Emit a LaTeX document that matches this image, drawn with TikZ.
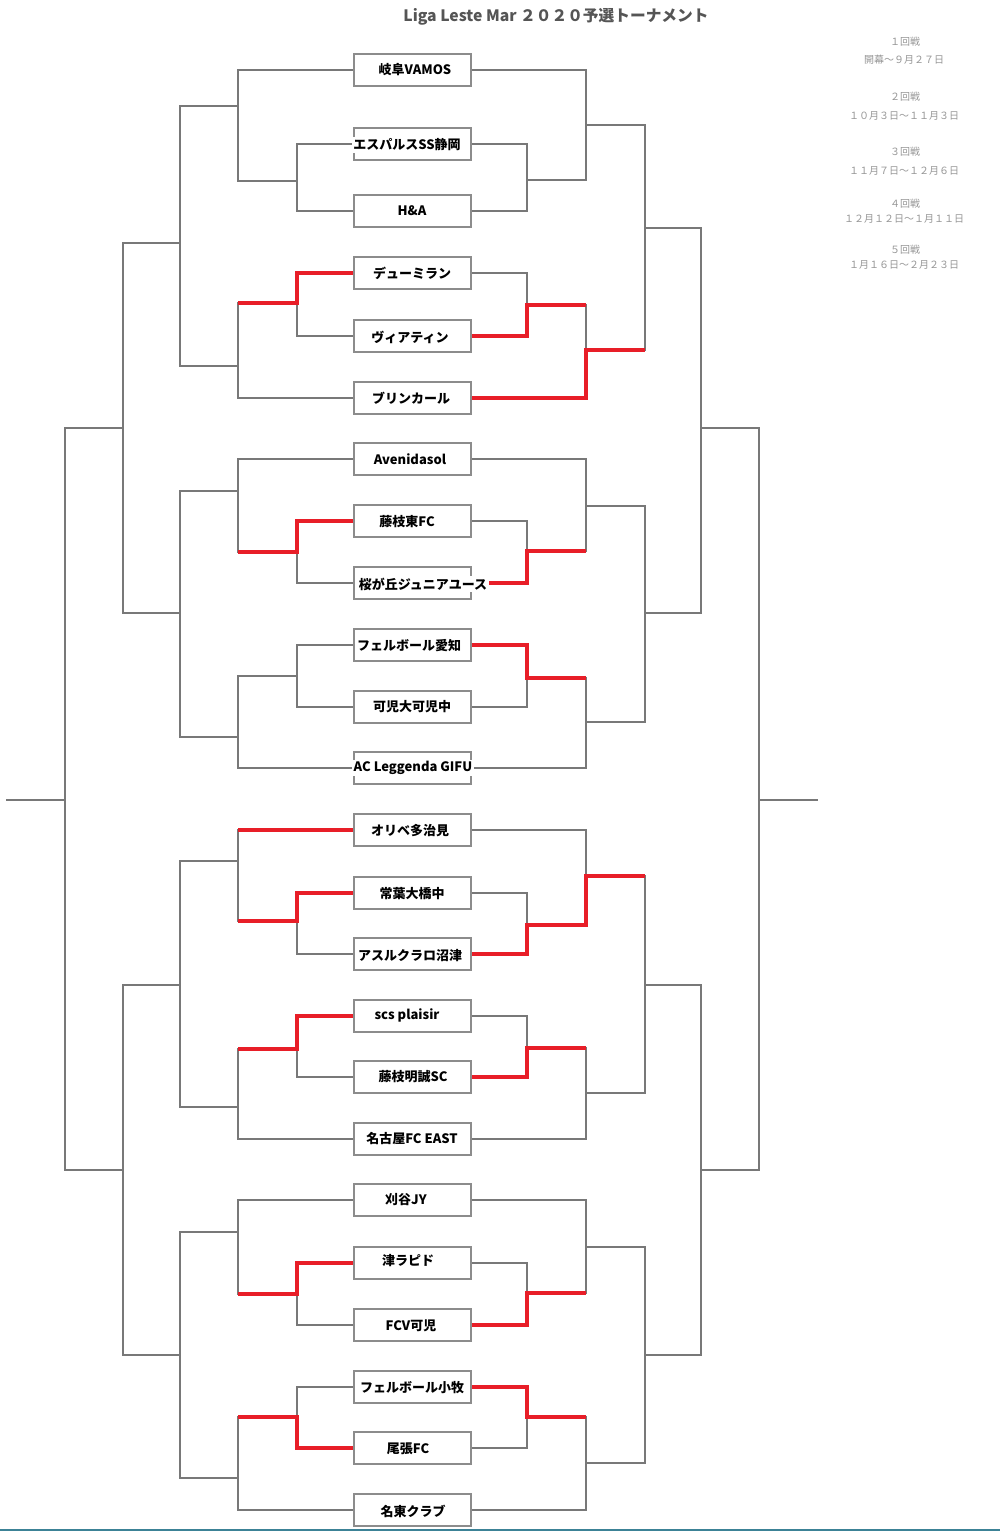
\documentclass[tikz,border=0pt]{standalone}
\usepackage{fontspec}
\setmainfont{Noto Sans CJK JP}
\definecolor{lgray}{RGB}{120,120,120}
\definecolor{bgray}{RGB}{140,140,140}
\definecolor{hred}{RGB}{232,30,40}
\definecolor{tealline}{RGB}{60,130,150}
\definecolor{ttl}{RGB}{85,85,85}
\definecolor{leg}{RGB}{150,150,150}
\begin{document}
\begin{tikzpicture}[x=1pt,y=-1pt,
  ln/.style={draw=lgray,line width=1.8pt},
  win/.style={draw=hred,line width=4.2pt},
  teambox/.style={draw=bgray,line width=2.4pt,fill=white,minimum width=117pt,minimum height=32pt,inner sep=0pt},
  lbl/.style={fill=white,inner sep=1.5pt,font=\fontsize{13}{15}\selectfont\bfseries},
  legtxt/.style={text=leg,inner sep=0pt,font=\fontsize{10}{12}\selectfont},
  ttltxt/.style={text=ttl,inner sep=0pt,font=\fontsize{15.7}{18}\selectfont\bfseries}]
\useasboundingbox[fill=white] (0,0) rectangle (1000,1531);

% title and legend
\node[ttltxt] (title) at (556,17) {Liga Leste Mar ２０２０予選トーナメント};
\node[legtxt] (g1a) at (905,42) {１回戦};
\node[legtxt] (g1b) at (904,60) {開幕～９月２７日};
\node[legtxt] (g2a) at (905,97) {２回戦};
\node[legtxt] (g2b) at (904,116) {１０月３日～１１月３日};
\node[legtxt] (g3a) at (905,152) {３回戦};
\node[legtxt] (g3b) at (904,171) {１１月７日～１２月６日};
\node[legtxt] (g4a) at (905,204) {４回戦};
\node[legtxt] (g4b) at (904,219) {１２月１２日～１月１１日};
\node[legtxt] (g5a) at (905,250) {５回戦};
\node[legtxt] (g5b) at (904,265) {１月１６日～２月２３日};

% team boxes
\foreach \i/\y in {1/70,2/144,3/211,4/273,5/336,6/398,7/459,8/521,9/583,10/645,11/707,12/768,
                   13/830,14/893,15/954,16/1016,17/1077,18/1139,19/1200,20/1263,21/1325,22/1387,23/1448,24/1510}
  \node[teambox] (t\i) at (412.5,\y) {};

% junction coordinates, left
\coordinate (L1p) at (297,181);  \coordinate (L1g) at (238,106);
\coordinate (L2p) at (297,303);  \coordinate (L2g) at (238,366);
\coordinate (L12) at (180,243);
\coordinate (L3p) at (297,552);  \coordinate (L3g) at (238,491);
\coordinate (L4p) at (297,676);  \coordinate (L4g) at (238,737);
\coordinate (L34) at (180,613);
\coordinate (L1234) at (123,428);
\coordinate (Lroot) at (65,800); \coordinate (Lstub) at (6,800);
\coordinate (L5p) at (297,921);  \coordinate (L5g) at (238,861);
\coordinate (L6p) at (297,1049); \coordinate (L6g) at (238,1107);
\coordinate (L56) at (180,985);
\coordinate (L7p) at (297,1294); \coordinate (L7g) at (238,1232);
\coordinate (L8p) at (297,1417); \coordinate (L8g) at (238,1478);
\coordinate (L78) at (180,1355);
\coordinate (L5678) at (123,1170);
% junction coordinates, right
\coordinate (R1p) at (527,180);  \coordinate (R1g) at (586,125);
\coordinate (R2p) at (527,305);  \coordinate (R2g) at (586,350);
\coordinate (R12) at (645,228);
\coordinate (R3p) at (527,551);  \coordinate (R3g) at (586,506);
\coordinate (R4p) at (527,678);  \coordinate (R4g) at (586,722);
\coordinate (R34) at (645,613);
\coordinate (R1234) at (701,428);
\coordinate (Rroot) at (759,800); \coordinate (Rstub) at (818,800);
\coordinate (R5p) at (527,925);  \coordinate (R5g) at (586,876);
\coordinate (R6p) at (527,1048); \coordinate (R6g) at (586,1093);
\coordinate (R56) at (645,985);
\coordinate (R7p) at (527,1293); \coordinate (R7g) at (586,1247);
\coordinate (R8p) at (527,1417); \coordinate (R8g) at (586,1463);
\coordinate (R78) at (645,1355);
\coordinate (R5678) at (701,1170);

% ---- bracket lines (gray)
% groups with single team on top
\foreach \a/\b/\c/\g in {1/2/3/1,7/8/9/3,13/14/15/5,19/20/21/7}{
  \draw[ln] (t\b.west) -| (L\g p) |- (t\c.west);
  \draw[ln] (L\g p) -| (L\g g) |- (t\a.west);
  \draw[ln] (t\b.east) -| (R\g p) |- (t\c.east);
  \draw[ln] (R\g p) -| (R\g g) |- (t\a.east);
}
% groups with single team at bottom
\foreach \a/\b/\c/\g in {4/5/6/2,10/11/12/4,16/17/18/6,22/23/24/8}{
  \draw[ln] (t\a.west) -| (L\g p) |- (t\b.west);
  \draw[ln] (L\g p) -| (L\g g) |- (t\c.west);
  \draw[ln] (t\a.east) -| (R\g p) |- (t\b.east);
  \draw[ln] (R\g p) -| (R\g g) |- (t\c.east);
}
\foreach \s in {L,R}{
  \draw[ln] (\s1g) -| (\s12) |- (\s2g);
  \draw[ln] (\s3g) -| (\s34) |- (\s4g);
  \draw[ln] (\s5g) -| (\s56) |- (\s6g);
  \draw[ln] (\s7g) -| (\s78) |- (\s8g);
  \draw[ln] (\s12) -| (\s1234) |- (\s34);
  \draw[ln] (\s56) -| (\s5678) |- (\s78);
  \draw[ln] (\s1234) -| (\s root) |- (\s5678);
  \draw[ln] (\s root) -- (\s stub);
}

% ---- winners (red), left
\draw[win] (t4.west) -| (L2p) -- (L2p -| L2g);
\draw[win] (t8.west) -| (L3p) -- (L3p -| L3g);
\draw[win] (t13.west) -- (t13.west -| L5g);
\draw[win] (t14.west) -| (L5p) -- (L5p -| L5g);
\draw[win] (t16.west) -| (L6p) -- (L6p -| L6g);
\draw[win] (t20.west) -| (L7p) -- (L7p -| L7g);
\draw[win] (t23.west) -| (L8p) -- (L8p -| L8g);
% winners (red), right
\draw[win] (t5.east) -| (R2p) -- (R2p -| R2g);
\draw[win] (t6.east) -| (R2g) -- (R2g -| R12);
\draw[win] (t9.east) -| (R3p) -- (R3p -| R3g);
\draw[win] (t10.east) -| (R4p) -- (R4p -| R4g);
\draw[win] (t15.east) -| (R5p) -| (R5g) -- (R5g -| R56);
\draw[win] (t17.east) -| (R6p) -- (R6p -| R6g);
\draw[win] (t21.east) -| (R7p) -- (R7p -| R7g);
\draw[win] (t22.east) -| (R8p) -- (R8p -| R8g);

% ---- team names
\node[lbl] (n1)  at (415,70)   {岐阜VAMOS};
\node[lbl] (n2)  at (407,145)  {エスパルスSS静岡};
\node[lbl] (n3)  at (412,211)  {H\&A};
\node[lbl] (n4)  at (412,273)  {デューミラン};
\node[lbl] (n5)  at (410,337)  {ヴィアティン};
\node[lbl] (n6)  at (411,398)  {ブリンカール};
\node[lbl] (n7)  at (410,459)  {Avenidasol};
\node[lbl] (n8)  at (407,522)  {藤枝東FC};
\node[lbl] (n9)  at (423,584)  {桜が丘ジュニアユース};
\node[lbl] (n10) at (409,646)  {フェルボール愛知};
\node[lbl] (n11) at (412,707)  {可児大可児中};
\node[lbl] (n12) at (413,768)  {AC Leggenda GIFU};
\node[lbl] (n13) at (410,831)  {オリベ多治見};
\node[lbl] (n14) at (412,894)  {常葉大橋中};
\node[lbl] (n15) at (410,956)  {アスルクラロ沼津};
\node[lbl] (n16) at (407,1015) {scs plaisir};
\node[lbl] (n17) at (413,1077) {藤枝明誠SC};
\node[lbl] (n18) at (412,1138) {名古屋FC EAST};
\node[lbl] (n19) at (406,1200) {刈谷JY};
\node[lbl] (n20) at (408,1261) {津ラピド};
\node[lbl] (n21) at (411,1326) {FCV可児};
\node[lbl] (n22) at (412,1388) {フェルボール小牧};
\node[lbl] (n23) at (408,1449) {尾張FC};
\node[lbl] (n24) at (413,1511) {名東クラブ};

% bottom edge line
\draw[tealline,line width=2pt] (0,1529.5) -- (1000,1529.5);
\end{tikzpicture}
\end{document}
